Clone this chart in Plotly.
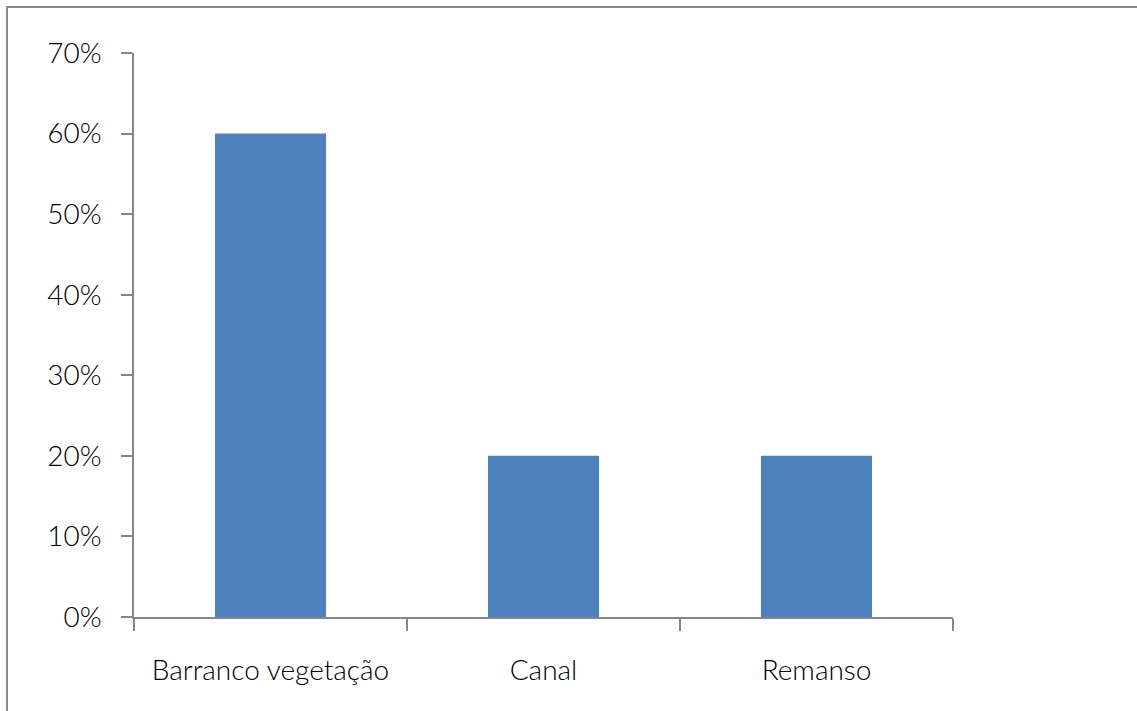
import plotly.graph_objects as go

# Habitat categories and share of records
categories = ["Barranco vegetação", "Canal", "Remanso"]
shares = [0.60, 0.20, 0.20]
y_ticks = [0, 0.1, 0.2, 0.3, 0.4, 0.5, 0.6, 0.7]

W, H = 1137, 711
L, R, T, B = 134, 184, 53, 94
plot_w = W - L - R
plot_h = H - T - B

fig = go.Figure(
    go.Bar(
        x=categories,
        y=shares,
        marker=dict(color="#4F81BD", line=dict(width=0)),
        hoverinfo="x+y",
    )
)

axis_grey = "#868686"
font = dict(family="Lato, Carlito, Calibri, sans-serif", size=28, color="#000000", weight=300)

fig.update_layout(
    width=W,
    height=H,
    margin=dict(l=L, r=R, t=T, b=B, pad=0),
    paper_bgcolor="white",
    plot_bgcolor="white",
    bargap=0.593,
    showlegend=False,
    font=font,
    xaxis=dict(
        type="category",
        range=[-0.5, 2.5],
        showgrid=False,
        showline=True,
        linecolor=axis_grey,
        linewidth=1.5,
        ticks="outside",
        tickson="boundaries",
        ticklen=12,
        tickwidth=1.5,
        tickcolor=axis_grey,
        ticklabelstandoff=28,
        tickfont=font,
        zeroline=False,
    ),
    yaxis=dict(
        range=[0, 0.7],
        tickvals=y_ticks,
        tickformat=".0%",
        showgrid=False,
        showline=True,
        linecolor=axis_grey,
        linewidth=1.5,
        ticks="outside",
        ticklen=11,
        tickwidth=1.5,
        tickcolor=axis_grey,
        ticklabelstandoff=14,
        tickfont=font,
        zeroline=False,
    ),
)

# Outer chart frame (left and top edges visible)
def px_to_paper_x(px):
    return (px - L) / plot_w

def px_to_paper_y(py):
    return (H - B - py) / plot_h

frame = dict(color="#8a8a8a", width=2)
fig.add_shape(type="line", xref="paper", yref="paper",
              x0=px_to_paper_x(7), x1=px_to_paper_x(7),
              y0=px_to_paper_y(6), y1=px_to_paper_y(H + 5), line=frame)
fig.add_shape(type="line", xref="paper", yref="paper",
              x0=px_to_paper_x(6), x1=px_to_paper_x(W + 5),
              y0=px_to_paper_y(7), y1=px_to_paper_y(7), line=frame)

fig.write_html("out.html")
